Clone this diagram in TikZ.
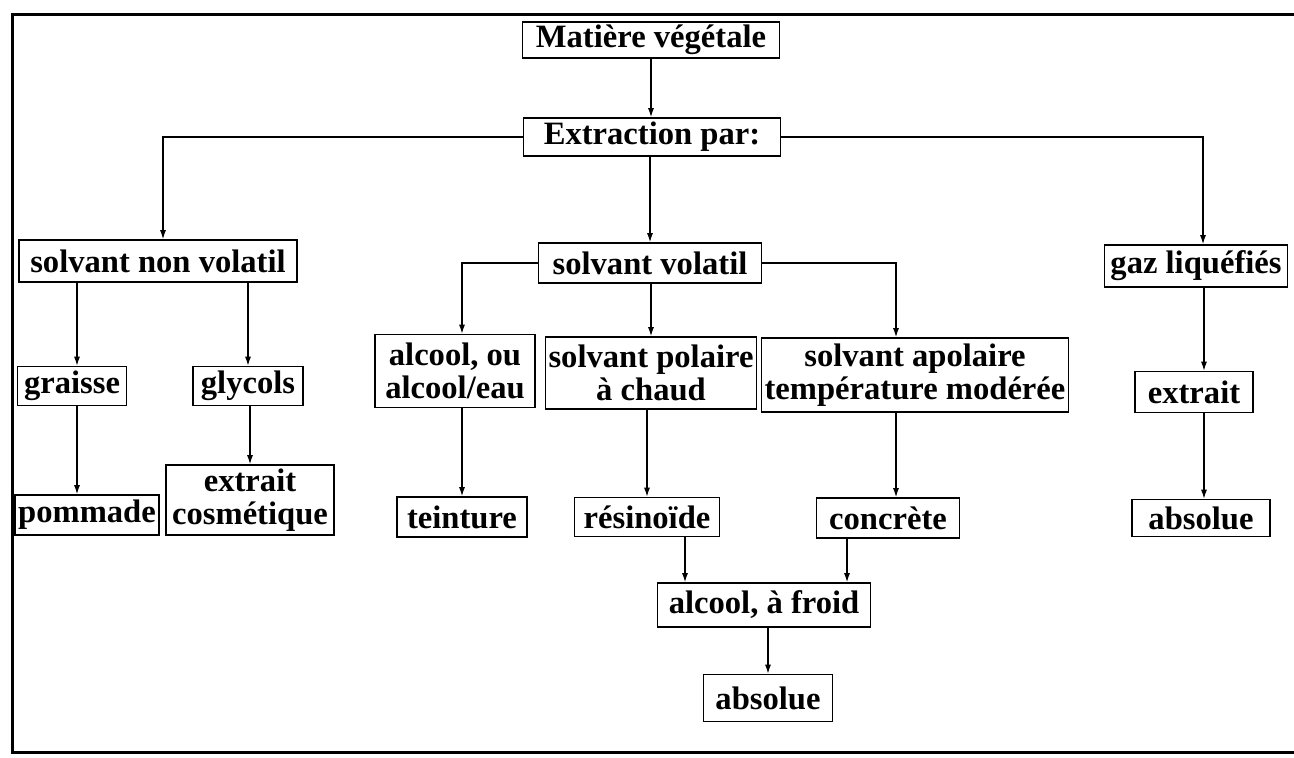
\documentclass[tikz,border=0pt]{standalone}
\usepackage{fontspec}
\setmainfont{Liberation Serif}
\usetikzlibrary{arrows.meta}

\begin{document}
\begin{tikzpicture}[x=0.5pt,y=-0.5pt,>={Latex[length=4.5pt,width=3pt]},line width=0.6pt,
 box/.style={draw,line width=0.8pt,align=center,inner sep=1.5pt,minimum height=19.5pt,
  font=\fontsize{16.3}{16.5}\selectfont\bfseries}]
\useasboundingbox (0,0) rectangle (1294,758);
\draw[line width=1.5pt] (1294,15)--(12,15)--(12,752)--(1294,752);
\node[box,minimum width=128.5pt,minimum height=17.5pt] (mat) at (651,40) {Matière végétale};
\node[box,minimum width=128.5pt,minimum height=19pt] (ext) at (652,137) {Extraction par:};
\node[box,minimum width=139pt,minimum height=21pt] (snv) at (158,261) {solvant non volatil};
\node[box,minimum width=111.5pt,minimum height=20pt] (sv) at (650,263) {solvant volatil};
\node[box,minimum width=91.5pt,minimum height=21pt] (gaz) at (1196,266) {gaz liquéfiés};
\node[box,minimum width=54.5pt] (gr) at (72,386) {graisse};
\node[box,minimum width=55pt] (gly) at (248,386) {glycols};
\node[box,minimum width=69.5pt,minimum height=20pt] (pom) at (87,515) {pommade};
\node[box,minimum width=84pt,minimum height=35pt] (cos) at (250,500) {extrait\\cosmétique};
\node[box,minimum width=80pt,minimum height=36.5pt] (alc) at (455,371) {alcool, ou\\alcool/eau};
\node[box,minimum width=103pt,minimum height=36pt] (pol) at (651,373) {solvant polaire\\à chaud};
\node[box,minimum width=152.5pt,minimum height=37pt] (apo) at (915,375) {solvant apolaire\\température modérée};
\node[box,minimum width=59pt,minimum height=20.5pt] (extr) at (1194,392) {extrait};
\node[box,minimum width=65pt,minimum height=20pt] (tein) at (462,517) {teinture};
\node[box,minimum width=72.5pt] (res) at (647,517) {résinoïde};
\node[box,minimum width=71.5pt,minimum height=20pt] (conc) at (888,518) {concrète};
\node[box,minimum width=69pt,minimum height=18.5pt] (absg) at (1201,518) {absolue};
\node[box,minimum width=106.5pt,minimum height=22pt] (froid) at (764,605) {alcool, à froid};
\node[box,minimum width=64.5pt,minimum height=23.5pt] (abs) at (768,698) {absolue};
\coordinate (xsnv) at (163,0);\coordinate (xgaz) at (1203,0);\coordinate (xgr) at (77,0);
\coordinate (xalc) at (462,0);\coordinate (xapo) at (896,0);\coordinate (xres) at (685,0);
\coordinate (xconc) at (847,0);\coordinate (xext) at (1204,0);
\draw[->] (mat.south)--(mat.south|-ext.north);
\draw[->] (ext.west)-|(snv.north-|xsnv);\draw[->] (ext.east)-|(gaz.north-|xgaz);
\draw[->] (ext.south-|sv.north)--(sv.north);
\draw[->] (snv.south-|xgr)--(gr.north-|xgr);\draw[->] (snv.south-|gly.north)--(gly.north);
\draw[->] (gr.south-|xgr)--(pom.north-|xgr);\draw[->] (gly.south-|cos.north)--(cos.north);
\draw[->] (sv.west)-|(alc.north-|xalc);\draw[->] (sv.south-|pol.north)--(pol.north);
\draw[->] (sv.east)-|(apo.north-|xapo);
\draw[->] (alc.south-|xalc)--(tein.north-|xalc);\draw[->] (pol.south-|res.north)--(res.north);
\draw[->] (apo.south-|xapo)--(conc.north-|xapo);
\draw[->] (res.south-|xres)--(froid.north-|xres);\draw[->] (conc.south-|xconc)--(froid.north-|xconc);
\draw[->] (froid.south-|abs.north)--(abs.north);
\draw[->] (gaz.south-|xext)--(extr.north-|xext);\draw[->] (extr.south-|xext)--(absg.north-|xext);
\end{tikzpicture}
\end{document}
